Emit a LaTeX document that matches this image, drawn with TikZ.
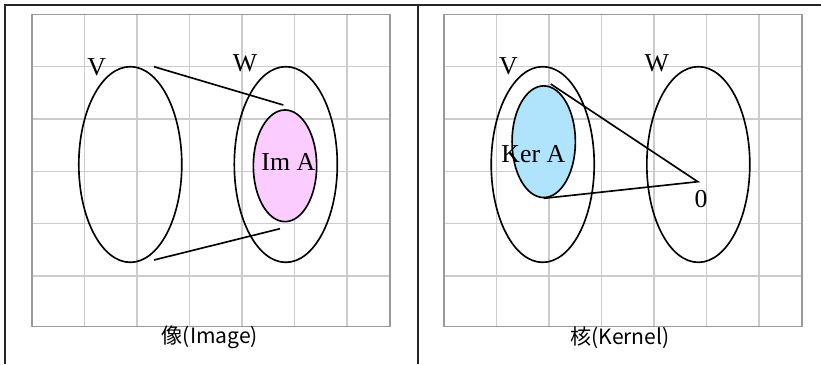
\documentclass[tikz,border=0pt]{standalone}
\usepackage{fontspec}
\setmainfont{Liberation Serif}
\newfontfamily\capfont{Noto Sans CJK JP}
\usepackage{tikz}
\usetikzlibrary{
  positioning,
  shapes.geometric
}
\definecolor{imgpink}{HTML}{FACCFF}
\definecolor{kerblue}{HTML}{B0E4FC}
\definecolor{gridgray}{HTML}{CCCCCC}
\definecolor{framegray}{HTML}{9A9A9A}
\tikzset{
  space/.style={ellipse,draw,line width=1.4pt,minimum width=3.09cm,minimum height=5.87cm,inner sep=0pt},
  subspace/.style={ellipse,draw,line width=1.4pt,minimum width=1.9cm,minimum height=3.35cm,inner sep=0pt},
  setlabel/.style={font=\fontsize{22}{22}\selectfont,inner sep=0pt},
  caption/.style={font=\capfont\fontsize{18}{20}\selectfont,inner sep=0pt},
  mapline/.style={line width=1.4pt},
  gridline/.style={gridgray,line width=1.1pt},
  gridframe/.style={framegray,line width=1.6pt},
  tableline/.style={black!85,line width=1.8pt}
}

\begin{document}
\begin{tikzpicture}[x=0.03cm, y=-0.03cm]
    \useasboundingbox (0,0) rectangle (821,364);
    % table lines
    \coordinate (tl) at (5,5);
    \coordinate (tr) at (821,5);
    \coordinate (bl) at (5,364);
    \coordinate (mt) at (418,5);
    \coordinate (mb) at (418,364);
    \draw[tableline] (bl) -- (tl) -- (tr);
    \draw[tableline] (mt) -- (mb);

    % left panel: image
    \foreach \i in {1,...,6} \draw[gridline] (32+52.5*\i,14.5) -- (32+52.5*\i,326.5);
    \foreach \j in {1,...,5} \draw[gridline] (32,14.5+52.3*\j) -- (390,14.5+52.3*\j);
    \draw[gridframe] (32,14.5) rectangle (390,326.5);

    \node[space] (vimg) at (130.3,164.5) {};
    \node[space] (wimg) at (285.8,164.5) {};
    \node[subspace,fill=imgpink] (ima) at (285,165.8) {};
    \node[setlabel] (vlblimg) at (96.7,67) {V};
    \node[setlabel] (wlblimg) at (245,63.3) {W};
    \node[setlabel] (imlbl) at (288.3,161.7) {Im A};
    \coordinate (vtop) at (154,66.7);
    \coordinate (vbot) at (154,260);
    \coordinate (imtop) at (283.3,105);
    \coordinate (imbot) at (280,228.7);
    \draw[mapline] (vtop) -- (imtop);
    \draw[mapline] (vbot) -- (imbot);
    \node[caption] (capimg) at (210,337.5) {像(Image)};

    % right panel: kernel
    \begin{scope}[xshift=12.36cm]
      \foreach \i in {1,...,6} \draw[gridline] (32+52.5*\i,14.5) -- (32+52.5*\i,326.5);
      \foreach \j in {1,...,5} \draw[gridline] (32,14.5+52.3*\j) -- (390,14.5+52.3*\j);
      \draw[gridframe] (32,14.5) rectangle (390,326.5);

      \node[space] (vker) at (130.7,164.5) {};
      \node[space] (wker) at (286.3,164.5) {};
      \node[subspace,fill=kerblue] (kera) at (131.7,141.7) {};
      \node[setlabel] (vlblker) at (96.3,66.7) {V};
      \node[setlabel] (wlblker) at (244.7,63.3) {W};
      \node[setlabel] (kerlbl) at (121.3,154) {Ker A};
      \coordinate (zero) at (285.8,181.7);
      \node[setlabel] (zerolbl) at (289,199) {0};
      \coordinate (kertop) at (138.7,84);
      \draw[mapline] (kertop) -- (zero) -- (kera.south);
      \node[caption] (capker) at (208,337.5) {核(Kernel)};
    \end{scope}
\end{tikzpicture}
\end{document}
